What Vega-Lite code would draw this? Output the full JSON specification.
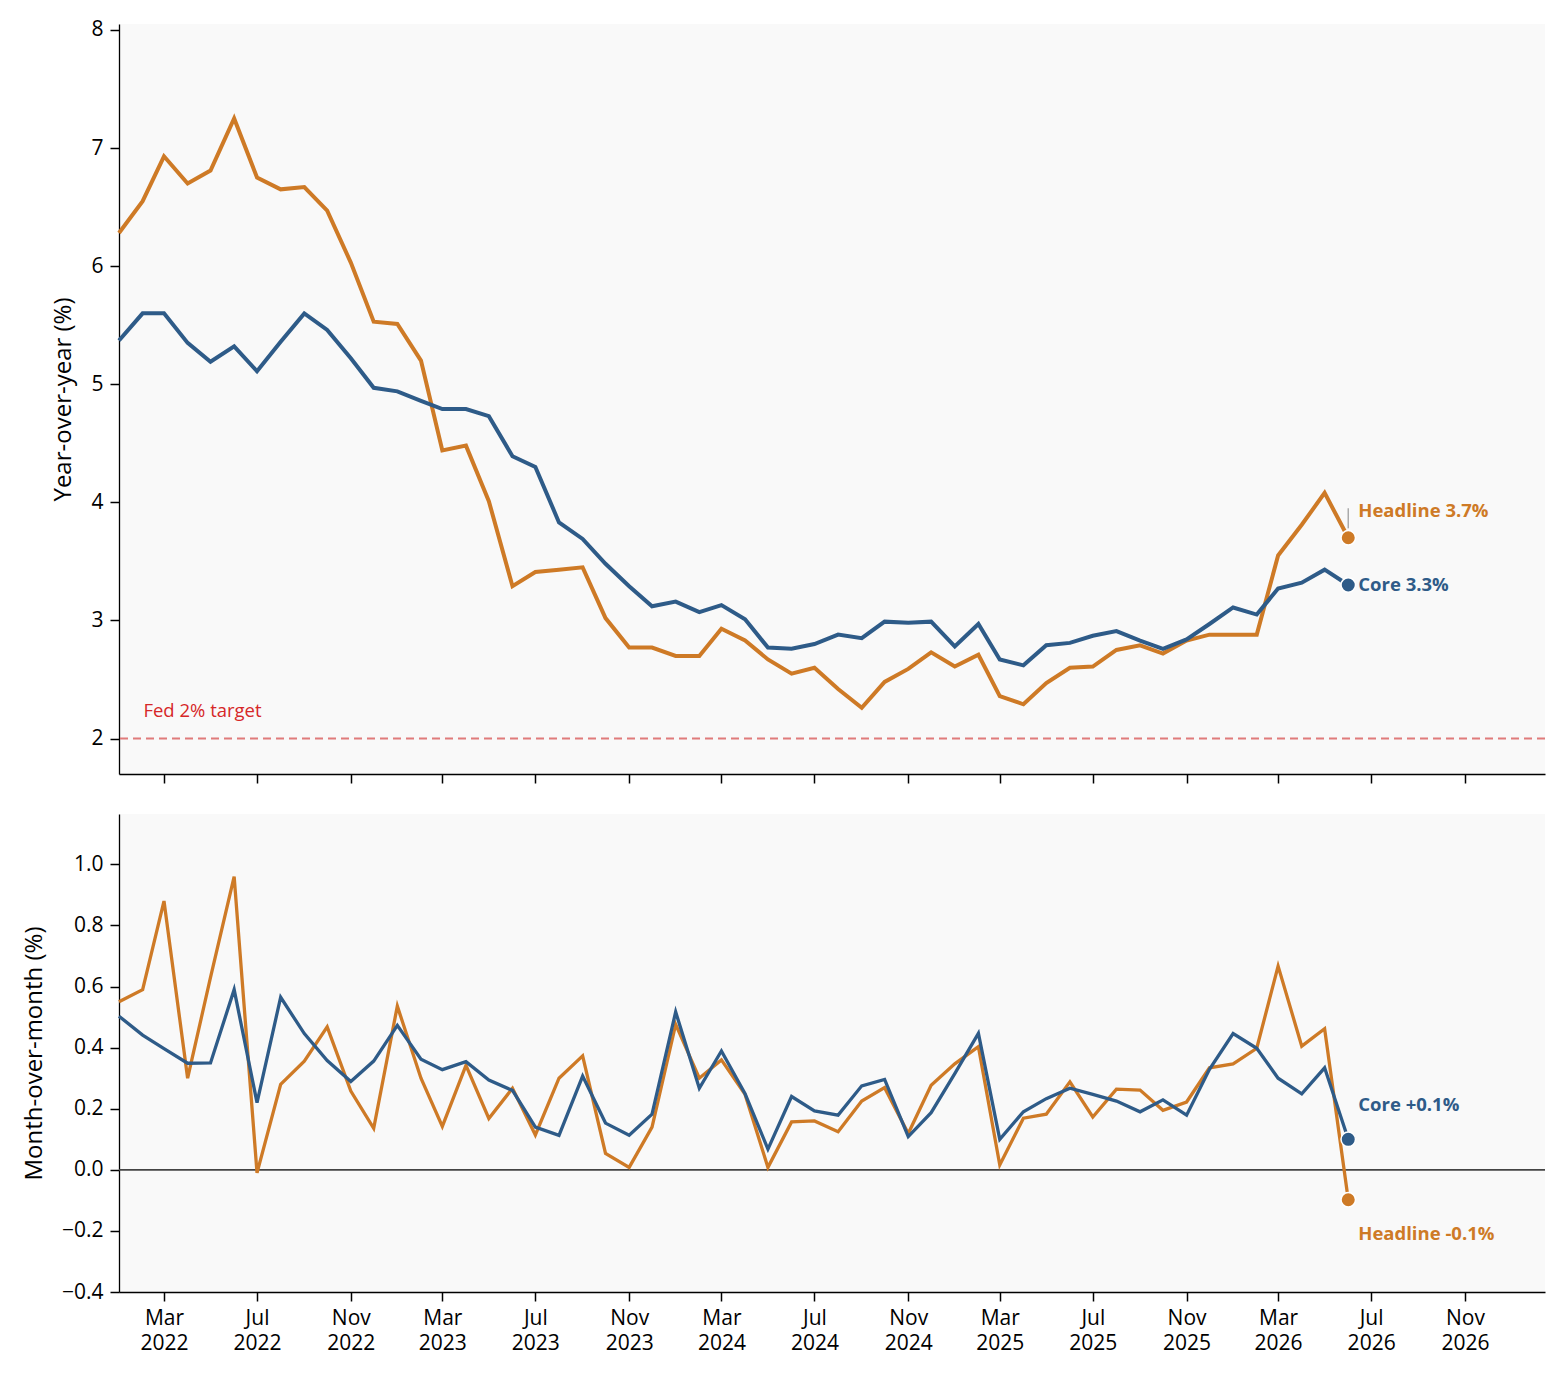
{
  "$schema": "https://vega.github.io/schema/vega-lite/v6.json",
  "padding": {"left": 22, "top": 18, "right": 19, "bottom": 5},
  "background": "white",
  "config": {
    "font": "Open Sans",
    "view": {"fill": "#f9f9f9", "stroke": null},
    "axis": {
      "grid": false,
      "labelFont": "Open Sans",
      "labelFontSize": 21,
      "labelColor": "#000000",
      "titleFont": "Open Sans",
      "titleFontSize": 24,
      "titleFontWeight": "normal",
      "titleColor": "#000000",
      "tickColor": "#000000",
      "domainColor": "#000000",
      "tickSize": 9,
      "tickWidth": 1.5,
      "domainWidth": 1.3,
      "labelPadding": 7
    },
    "text": {"font": "Open Sans"}
  },
  "datasets": {
    "target": [{"label": "Fed 2% target", "value": 2}],
    "zero": [{"value": 0}]
  },
  "data": {
    "format": {"parse": {"date": "date"}},
    "values": [
      {"date": "2022-01-01", "series": "Headline", "yoy": 6.28, "mom": 0.55},
      {"date": "2022-02-01", "series": "Headline", "yoy": 6.55, "mom": 0.59},
      {"date": "2022-03-01", "series": "Headline", "yoy": 6.93, "mom": 0.88},
      {"date": "2022-04-01", "series": "Headline", "yoy": 6.70, "mom": 0.30},
      {"date": "2022-05-01", "series": "Headline", "yoy": 6.81, "mom": 0.63},
      {"date": "2022-06-01", "series": "Headline", "yoy": 7.25, "mom": 0.96},
      {"date": "2022-07-01", "series": "Headline", "yoy": 6.75, "mom": -0.01},
      {"date": "2022-08-01", "series": "Headline", "yoy": 6.65, "mom": 0.28},
      {"date": "2022-09-01", "series": "Headline", "yoy": 6.67, "mom": 0.356},
      {"date": "2022-10-01", "series": "Headline", "yoy": 6.47, "mom": 0.468},
      {"date": "2022-11-01", "series": "Headline", "yoy": 6.03, "mom": 0.258},
      {"date": "2022-12-01", "series": "Headline", "yoy": 5.53, "mom": 0.136},
      {"date": "2023-01-01", "series": "Headline", "yoy": 5.51, "mom": 0.536},
      {"date": "2023-02-01", "series": "Headline", "yoy": 5.20, "mom": 0.30},
      {"date": "2023-03-01", "series": "Headline", "yoy": 4.44, "mom": 0.142},
      {"date": "2023-04-01", "series": "Headline", "yoy": 4.48, "mom": 0.342},
      {"date": "2023-05-01", "series": "Headline", "yoy": 4.01, "mom": 0.168},
      {"date": "2023-06-01", "series": "Headline", "yoy": 3.29, "mom": 0.267},
      {"date": "2023-07-01", "series": "Headline", "yoy": 3.41, "mom": 0.114},
      {"date": "2023-08-01", "series": "Headline", "yoy": 3.43, "mom": 0.30},
      {"date": "2023-09-01", "series": "Headline", "yoy": 3.45, "mom": 0.373},
      {"date": "2023-10-01", "series": "Headline", "yoy": 3.02, "mom": 0.054},
      {"date": "2023-11-01", "series": "Headline", "yoy": 2.77, "mom": 0.008},
      {"date": "2023-12-01", "series": "Headline", "yoy": 2.77, "mom": 0.14},
      {"date": "2024-01-01", "series": "Headline", "yoy": 2.70, "mom": 0.476},
      {"date": "2024-02-01", "series": "Headline", "yoy": 2.70, "mom": 0.30},
      {"date": "2024-03-01", "series": "Headline", "yoy": 2.93, "mom": 0.36},
      {"date": "2024-04-01", "series": "Headline", "yoy": 2.83, "mom": 0.247},
      {"date": "2024-05-01", "series": "Headline", "yoy": 2.67, "mom": 0.008},
      {"date": "2024-06-01", "series": "Headline", "yoy": 2.55, "mom": 0.157},
      {"date": "2024-07-01", "series": "Headline", "yoy": 2.60, "mom": 0.16},
      {"date": "2024-08-01", "series": "Headline", "yoy": 2.42, "mom": 0.125},
      {"date": "2024-09-01", "series": "Headline", "yoy": 2.26, "mom": 0.225},
      {"date": "2024-10-01", "series": "Headline", "yoy": 2.48, "mom": 0.269},
      {"date": "2024-11-01", "series": "Headline", "yoy": 2.59, "mom": 0.119},
      {"date": "2024-12-01", "series": "Headline", "yoy": 2.73, "mom": 0.277},
      {"date": "2025-01-01", "series": "Headline", "yoy": 2.61, "mom": 0.347},
      {"date": "2025-02-01", "series": "Headline", "yoy": 2.71, "mom": 0.403},
      {"date": "2025-03-01", "series": "Headline", "yoy": 2.36, "mom": 0.016},
      {"date": "2025-04-01", "series": "Headline", "yoy": 2.29, "mom": 0.169},
      {"date": "2025-05-01", "series": "Headline", "yoy": 2.47, "mom": 0.182},
      {"date": "2025-06-01", "series": "Headline", "yoy": 2.60, "mom": 0.288},
      {"date": "2025-07-01", "series": "Headline", "yoy": 2.61, "mom": 0.173},
      {"date": "2025-08-01", "series": "Headline", "yoy": 2.75, "mom": 0.264},
      {"date": "2025-09-01", "series": "Headline", "yoy": 2.79, "mom": 0.261},
      {"date": "2025-10-01", "series": "Headline", "yoy": 2.72, "mom": 0.195},
      {"date": "2025-11-01", "series": "Headline", "yoy": 2.83, "mom": 0.222},
      {"date": "2025-12-01", "series": "Headline", "yoy": 2.88, "mom": 0.334},
      {"date": "2026-01-01", "series": "Headline", "yoy": 2.88, "mom": 0.347},
      {"date": "2026-02-01", "series": "Headline", "yoy": 2.88, "mom": 0.398},
      {"date": "2026-03-01", "series": "Headline", "yoy": 3.55, "mom": 0.667},
      {"date": "2026-04-01", "series": "Headline", "yoy": 3.81, "mom": 0.405},
      {"date": "2026-05-01", "series": "Headline", "yoy": 4.08, "mom": 0.462},
      {"date": "2026-06-01", "series": "Headline", "yoy": 3.70, "mom": -0.098},
      {"date": "2022-01-01", "series": "Core", "yoy": 5.37, "mom": 0.503},
      {"date": "2022-02-01", "series": "Core", "yoy": 5.60, "mom": 0.441},
      {"date": "2022-03-01", "series": "Core", "yoy": 5.60, "mom": 0.397},
      {"date": "2022-04-01", "series": "Core", "yoy": 5.35, "mom": 0.349},
      {"date": "2022-05-01", "series": "Core", "yoy": 5.19, "mom": 0.35},
      {"date": "2022-06-01", "series": "Core", "yoy": 5.32, "mom": 0.59},
      {"date": "2022-07-01", "series": "Core", "yoy": 5.11, "mom": 0.22},
      {"date": "2022-08-01", "series": "Core", "yoy": 5.36, "mom": 0.565},
      {"date": "2022-09-01", "series": "Core", "yoy": 5.60, "mom": 0.446},
      {"date": "2022-10-01", "series": "Core", "yoy": 5.46, "mom": 0.358},
      {"date": "2022-11-01", "series": "Core", "yoy": 5.22, "mom": 0.289},
      {"date": "2022-12-01", "series": "Core", "yoy": 4.97, "mom": 0.356},
      {"date": "2023-01-01", "series": "Core", "yoy": 4.94, "mom": 0.473},
      {"date": "2023-02-01", "series": "Core", "yoy": 4.86, "mom": 0.362},
      {"date": "2023-03-01", "series": "Core", "yoy": 4.79, "mom": 0.328},
      {"date": "2023-04-01", "series": "Core", "yoy": 4.79, "mom": 0.354},
      {"date": "2023-05-01", "series": "Core", "yoy": 4.73, "mom": 0.294},
      {"date": "2023-06-01", "series": "Core", "yoy": 4.39, "mom": 0.26},
      {"date": "2023-07-01", "series": "Core", "yoy": 4.30, "mom": 0.14},
      {"date": "2023-08-01", "series": "Core", "yoy": 3.83, "mom": 0.113},
      {"date": "2023-09-01", "series": "Core", "yoy": 3.69, "mom": 0.307},
      {"date": "2023-10-01", "series": "Core", "yoy": 3.48, "mom": 0.153},
      {"date": "2023-11-01", "series": "Core", "yoy": 3.29, "mom": 0.113},
      {"date": "2023-12-01", "series": "Core", "yoy": 3.12, "mom": 0.182},
      {"date": "2024-01-01", "series": "Core", "yoy": 3.16, "mom": 0.517},
      {"date": "2024-02-01", "series": "Core", "yoy": 3.07, "mom": 0.267},
      {"date": "2024-03-01", "series": "Core", "yoy": 3.13, "mom": 0.389},
      {"date": "2024-04-01", "series": "Core", "yoy": 3.01, "mom": 0.249},
      {"date": "2024-05-01", "series": "Core", "yoy": 2.77, "mom": 0.068},
      {"date": "2024-06-01", "series": "Core", "yoy": 2.76, "mom": 0.24},
      {"date": "2024-07-01", "series": "Core", "yoy": 2.80, "mom": 0.193},
      {"date": "2024-08-01", "series": "Core", "yoy": 2.88, "mom": 0.179},
      {"date": "2024-09-01", "series": "Core", "yoy": 2.85, "mom": 0.275},
      {"date": "2024-10-01", "series": "Core", "yoy": 2.99, "mom": 0.296},
      {"date": "2024-11-01", "series": "Core", "yoy": 2.98, "mom": 0.109},
      {"date": "2024-12-01", "series": "Core", "yoy": 2.99, "mom": 0.187},
      {"date": "2025-01-01", "series": "Core", "yoy": 2.78, "mom": 0.315},
      {"date": "2025-02-01", "series": "Core", "yoy": 2.97, "mom": 0.447},
      {"date": "2025-03-01", "series": "Core", "yoy": 2.67, "mom": 0.10},
      {"date": "2025-04-01", "series": "Core", "yoy": 2.62, "mom": 0.19},
      {"date": "2025-05-01", "series": "Core", "yoy": 2.79, "mom": 0.233},
      {"date": "2025-06-01", "series": "Core", "yoy": 2.81, "mom": 0.267},
      {"date": "2025-07-01", "series": "Core", "yoy": 2.87, "mom": 0.247},
      {"date": "2025-08-01", "series": "Core", "yoy": 2.91, "mom": 0.225},
      {"date": "2025-09-01", "series": "Core", "yoy": 2.83, "mom": 0.19},
      {"date": "2025-10-01", "series": "Core", "yoy": 2.76, "mom": 0.229},
      {"date": "2025-11-01", "series": "Core", "yoy": 2.84, "mom": 0.179},
      {"date": "2025-12-01", "series": "Core", "yoy": 2.97, "mom": 0.329},
      {"date": "2026-01-01", "series": "Core", "yoy": 3.11, "mom": 0.446},
      {"date": "2026-02-01", "series": "Core", "yoy": 3.05, "mom": 0.398},
      {"date": "2026-03-01", "series": "Core", "yoy": 3.27, "mom": 0.30},
      {"date": "2026-04-01", "series": "Core", "yoy": 3.32, "mom": 0.249},
      {"date": "2026-05-01", "series": "Core", "yoy": 3.43, "mom": 0.334},
      {"date": "2026-06-01", "series": "Core", "yoy": 3.30, "mom": 0.10}
    ]
  },
  "spacing": 30,
  "vconcat": [
    {
      "width": 1426,
      "height": 750,
      "layer": [
        {
          "data": {"name": "target"},
          "mark": {"type": "rule", "color": "#e07b7b", "strokeDash": [8, 5], "strokeWidth": 2},
          "encoding": {"y": {"field": "value", "type": "quantitative"}}
        },
        {
          "mark": {"type": "line", "strokeWidth": 4},
          "encoding": {
            "x": {
              "field": "date",
              "type": "temporal",
              "scale": {"type": "utc", "domain": [{"year": 2022, "month": 1, "date": 1, "utc": true}, {"year": 2027, "month": 2, "date": 14, "utc": true}]},
              "axis": {
                "title": null,
                "labels": false,
                "values": [
                  {"year": 2022, "month": 3, "date": 1, "utc": true}, {"year": 2022, "month": 7, "date": 1, "utc": true}, {"year": 2022, "month": 11, "date": 1, "utc": true},
                  {"year": 2023, "month": 3, "date": 1, "utc": true}, {"year": 2023, "month": 7, "date": 1, "utc": true}, {"year": 2023, "month": 11, "date": 1, "utc": true},
                  {"year": 2024, "month": 3, "date": 1, "utc": true}, {"year": 2024, "month": 7, "date": 1, "utc": true}, {"year": 2024, "month": 11, "date": 1, "utc": true},
                  {"year": 2025, "month": 3, "date": 1, "utc": true}, {"year": 2025, "month": 7, "date": 1, "utc": true}, {"year": 2025, "month": 11, "date": 1, "utc": true},
                  {"year": 2026, "month": 3, "date": 1, "utc": true}, {"year": 2026, "month": 7, "date": 1, "utc": true}, {"year": 2026, "month": 11, "date": 1, "utc": true}
                ]
              }
            },
            "y": {
              "field": "yoy",
              "type": "quantitative",
              "scale": {"domain": [1.7, 8.05], "nice": false, "zero": false},
              "axis": {"title": "Year-over-year (%)", "values": [2, 3, 4, 5, 6, 7, 8], "format": "d", "titlePadding": 15}
            },
            "color": {"field": "series", "type": "nominal", "scale": {"domain": ["Headline", "Core"], "range": ["#ce7a26", "#2e5b88"]}, "legend": null}
          }
        },
        {
          "data": {"name": "target"},
          "mark": {"type": "text", "color": "#d62728", "align": "left", "baseline": "alphabetic", "dy": -22, "fontSize": 18.5},
          "encoding": {
            "x": {"datum": {"year": 2022, "month": 2, "date": 2, "utc": true}, "type": "temporal"},
            "y": {"field": "value", "type": "quantitative"},
            "text": {"field": "label"}
          }
        },
        {
          "transform": [
            {"filter": {"field": "date", "equal": {"year": 2026, "month": 6, "date": 1, "utc": true}}},
            {"filter": {"field": "series", "equal": "Headline"}}
          ],
          "mark": {"type": "rule", "color": "#aaaaaa", "strokeWidth": 1.5},
          "encoding": {
            "x": {"field": "date", "type": "temporal"},
            "y": {"datum": 3.78, "type": "quantitative"},
            "y2": {"datum": 3.95}
          }
        },
        {
          "transform": [{"filter": {"field": "date", "equal": {"year": 2026, "month": 6, "date": 1, "utc": true}}}],
          "mark": {"type": "circle", "size": 210, "opacity": 1, "stroke": "white", "strokeWidth": 1.5},
          "encoding": {
            "x": {"field": "date", "type": "temporal"},
            "y": {"field": "yoy", "type": "quantitative"},
            "color": {"field": "series", "type": "nominal", "legend": null}
          }
        },
        {
          "transform": [
            {"filter": {"field": "date", "equal": {"year": 2026, "month": 6, "date": 1, "utc": true}}},
            {"filter": {"field": "series", "equal": "Headline"}}
          ],
          "mark": {"type": "text", "text": "Headline 3.7%", "align": "left", "baseline": "middle", "dx": 10, "dy": -27, "fontSize": 18.5, "fontWeight": "bold", "color": "#ce7a26"},
          "encoding": {
            "x": {"field": "date", "type": "temporal"},
            "y": {"field": "yoy", "type": "quantitative"}
          }
        },
        {
          "transform": [
            {"filter": {"field": "date", "equal": {"year": 2026, "month": 6, "date": 1, "utc": true}}},
            {"filter": {"field": "series", "equal": "Core"}}
          ],
          "mark": {"type": "text", "text": "Core 3.3%", "align": "left", "baseline": "middle", "dx": 10, "dy": 0, "fontSize": 18.5, "fontWeight": "bold", "color": "#2e5b88"},
          "encoding": {
            "x": {"field": "date", "type": "temporal"},
            "y": {"field": "yoy", "type": "quantitative"}
          }
        }
      ]
    },
    {
      "width": 1426,
      "height": 478,
      "layer": [
        {
          "data": {"name": "zero"},
          "mark": {"type": "rule", "color": "#444444", "strokeWidth": 1.8},
          "encoding": {"y": {"field": "value", "type": "quantitative"}}
        },
        {
          "mark": {"type": "line", "strokeWidth": 3.3},
          "encoding": {
            "x": {
              "field": "date",
              "type": "temporal",
              "scale": {"type": "utc", "domain": [{"year": 2022, "month": 1, "date": 1, "utc": true}, {"year": 2027, "month": 2, "date": 14, "utc": true}]},
              "axis": {
                "title": null,
                "labelExpr": "[utcFormat(datum.value, '%b'), utcFormat(datum.value, '%Y')]",
                "labelLineHeight": 25.5,
                "labelPadding": 6,
                "values": [
                  {"year": 2022, "month": 3, "date": 1, "utc": true}, {"year": 2022, "month": 7, "date": 1, "utc": true}, {"year": 2022, "month": 11, "date": 1, "utc": true},
                  {"year": 2023, "month": 3, "date": 1, "utc": true}, {"year": 2023, "month": 7, "date": 1, "utc": true}, {"year": 2023, "month": 11, "date": 1, "utc": true},
                  {"year": 2024, "month": 3, "date": 1, "utc": true}, {"year": 2024, "month": 7, "date": 1, "utc": true}, {"year": 2024, "month": 11, "date": 1, "utc": true},
                  {"year": 2025, "month": 3, "date": 1, "utc": true}, {"year": 2025, "month": 7, "date": 1, "utc": true}, {"year": 2025, "month": 11, "date": 1, "utc": true},
                  {"year": 2026, "month": 3, "date": 1, "utc": true}, {"year": 2026, "month": 7, "date": 1, "utc": true}, {"year": 2026, "month": 11, "date": 1, "utc": true}
                ]
              }
            },
            "y": {
              "field": "mom",
              "type": "quantitative",
              "scale": {"domain": [-0.4, 1.165], "nice": false, "zero": false},
              "axis": {"title": "Month-over-month (%)", "values": [-0.4, -0.2, 0, 0.2, 0.4, 0.6, 0.8, 1.0], "format": ".1f", "titlePadding": 15}
            },
            "color": {"field": "series", "type": "nominal", "scale": {"domain": ["Headline", "Core"], "range": ["#ce7a26", "#2e5b88"]}, "legend": null}
          }
        },
        {
          "transform": [{"filter": {"field": "date", "equal": {"year": 2026, "month": 6, "date": 1, "utc": true}}}],
          "mark": {"type": "circle", "size": 210, "opacity": 1, "stroke": "white", "strokeWidth": 1.5},
          "encoding": {
            "x": {"field": "date", "type": "temporal"},
            "y": {"field": "mom", "type": "quantitative"},
            "color": {"field": "series", "type": "nominal", "legend": null}
          }
        },
        {
          "transform": [
            {"filter": {"field": "date", "equal": {"year": 2026, "month": 6, "date": 1, "utc": true}}},
            {"filter": {"field": "series", "equal": "Core"}}
          ],
          "mark": {"type": "text", "text": "Core +0.1%", "align": "left", "baseline": "middle", "dx": 10, "dy": -34, "fontSize": 18.5, "fontWeight": "bold", "color": "#2e5b88"},
          "encoding": {
            "x": {"field": "date", "type": "temporal"},
            "y": {"field": "mom", "type": "quantitative"}
          }
        },
        {
          "transform": [
            {"filter": {"field": "date", "equal": {"year": 2026, "month": 6, "date": 1, "utc": true}}},
            {"filter": {"field": "series", "equal": "Headline"}}
          ],
          "mark": {"type": "text", "text": "Headline -0.1%", "align": "left", "baseline": "middle", "dx": 10, "dy": 34, "fontSize": 18.5, "fontWeight": "bold", "color": "#ce7a26"},
          "encoding": {
            "x": {"field": "date", "type": "temporal"},
            "y": {"field": "mom", "type": "quantitative"}
          }
        }
      ]
    }
  ]
}
